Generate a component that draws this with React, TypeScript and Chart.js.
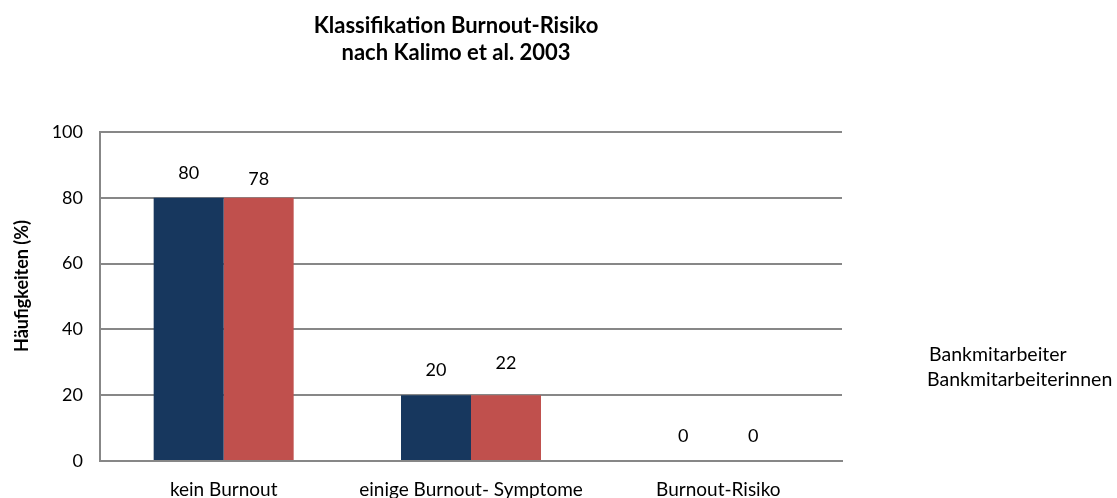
import React, { useEffect, useRef } from "react";
import { Chart, registerables } from "chart.js";

Chart.register(...registerables);

const categories = ["kein Burnout", "einige Burnout- Symptome", "Burnout-Risiko"];
const seriesNames = ["Bankmitarbeiter", "Bankmitarbeiterinnen"];
// bar heights as drawn in the reference
const barsMen = [80, 20, 0];
const barsWomen = [80, 20, 0];
// value labels as printed in the reference
const labelsMen = [80, 20, 0];
const labelsWomen = [78, 22, 0];
const yTicks = [0, 20, 40, 60, 80, 100];
const titleLines = ["Klassifikation Burnout-Risiko", "nach Kalimo et al. 2003"];
const yTitle = "Häufigkeiten (%)";

const FONT = "Lato, 'Open Sans', sans-serif";

const overlay = {
  id: "overlay",
  afterDatasetsDraw(chart: any) {
    const ctx = chart.ctx;
    const y = chart.scales.y;
    ctx.save();
    ctx.fillStyle = "#000";
    // value labels
    ctx.font = `18px ${FONT}`;
    ctx.textAlign = "center";
    ctx.textBaseline = "middle";
    const labelSets = [labelsMen, labelsWomen];
    labelSets.forEach((set, di) => {
      const meta = chart.getDatasetMeta(di);
      meta.data.forEach((bar: any, i: number) => {
        const py = y.getPixelForValue(set[i]) - 25;
        ctx.fillText(String(set[i]), bar.x, py);
      });
    });
    // title
    ctx.font = `bold 22px ${FONT}`;
    ctx.fillText(titleLines[0], 456, 26);
    ctx.fillText(titleLines[1], 456, 53);
    // y title
    ctx.save();
    ctx.translate(22, 286);
    ctx.rotate(-Math.PI / 2);
    ctx.font = `bold 18px ${FONT}`;
    ctx.fillText(yTitle, 0, 0);
    ctx.restore();
    // legend (text only)
    ctx.font = `19.5px ${FONT}`;
    ctx.textAlign = "left";
    ctx.fillText(seriesNames[0], 929, 355);
    ctx.fillText(seriesNames[1], 927, 380);
    ctx.restore();
  },
};

export default function App() {
  const ref = useRef<HTMLCanvasElement>(null);
  useEffect(() => {
    if (!ref.current) return;
    const chart = new Chart(ref.current, {
      type: "bar",
      data: {
        labels: categories,
        datasets: [
          { label: seriesNames[0], data: barsMen, backgroundColor: "#17375E", borderWidth: 0 },
          { label: seriesNames[1], data: barsWomen, backgroundColor: "#C0504D", borderWidth: 0 },
        ],
      },
      options: {
        animation: false,
        responsive: false,
        maintainAspectRatio: false,
        layout: { padding: { top: 132, right: 275, left: 0, bottom: 0 } },
        datasets: { bar: { barPercentage: 1, categoryPercentage: 0.566 } },
        plugins: { legend: { display: false }, title: { display: false }, tooltip: { enabled: false } },
        scales: {
          x: {
            grid: { display: false, drawTicks: false },
            border: { display: true, color: "#878787", width: 2 },
            ticks: { color: "#000", font: { family: FONT, size: 19 }, padding: 17 },
            afterFit: (s: any) => { s.height = 37; },
          },
          y: {
            min: 0,
            max: 100,
            afterBuildTicks: (s: any) => { s.ticks = yTicks.map((v) => ({ value: v })); },
            grid: { color: "#878787", lineWidth: 2, drawTicks: false },
            border: { display: true, color: "#878787", width: 2 },
            ticks: { color: "#000", font: { family: FONT, size: 18 }, padding: 17 },
            afterFit: (s: any) => { s.width = 100; },
          },
        },
      },
      plugins: [overlay],
    });
    return () => chart.destroy();
  }, []);
  return (
    <div style={{ position: "fixed", left: 0, top: 0, width: 1117, height: 498, background: "#fff" }}>
      <canvas ref={ref} width={1117} height={498} style={{ width: 1117, height: 498 }} />
    </div>
  );
}
